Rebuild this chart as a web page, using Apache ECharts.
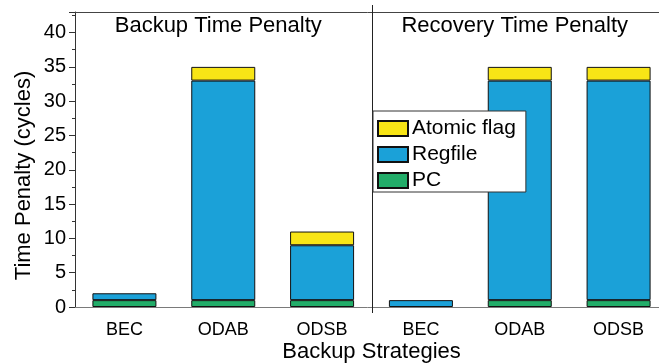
<!DOCTYPE html>
<html>
<head>
<meta charset="utf-8">
<script src="https://cdn.jsdelivr.net/npm/echarts@6/dist/echarts.min.js"></script>
<style>
  html, body { margin: 0; padding: 0; background: #fff; }
  #chart { width: 659px; height: 364px; }
</style>
</head>
<body>
<div id="chart"></div>
<script>
// Strategies, repeated for the backup and the recovery group
const strategies = ['BEC', 'ODAB', 'ODSB', 'BEC', 'ODAB', 'ODSB'];
const groupTitles = ['Backup Time Penalty', 'Recovery Time Penalty'];
const groupCenterIndex = [1, 4];

// Stacked components (cycles)
const pcCycles      = [1, 1, 1, 0, 1, 1];
const regfileCycles = [1, 32, 8, 1, 32, 32];
const atomicCycles  = [0, 2, 2, 0, 2, 2];

const yTicks = { min: 0, max: 43, interval: 5 };

const FONT = "'Liberation Sans', Arial, sans-serif";
const COLORS = { pc: '#22ad69', regfile: '#1ba1d8', atomic: '#f8e516' };

const nz = arr => arr.map(v => (v === 0 ? null : v));

const chart = echarts.init(document.getElementById('chart'), null, { renderer: 'canvas' });

function barSeries(name, data, color) {
  return {
    name: name,
    type: 'bar',
    stack: 'total',
    barWidth: 64,
    data: nz(data),
    itemStyle: { color: color, borderColor: '#111', borderWidth: 1 },
    emphasis: { disabled: true }
  };
}

chart.setOption({
  animation: false,
  backgroundColor: '#fff',
  textStyle: { fontFamily: FONT, color: '#000' },
  grid: { left: 75, top: 12, width: 593, height: 295, containLabel: false, outerBoundsMode: 'none' },
  legend: {
    orient: 'vertical',
    left: 373,
    top: 111,
    data: ['Atomic flag', 'Regfile', 'PC'],
    itemWidth: 30,
    itemHeight: 15,
    itemGap: 5,
    padding: [7, 10, 1, 4],
    backgroundColor: '#fff',
    borderColor: '#333',
    borderWidth: 1,
    icon: 'rect',
    textStyle: { fontFamily: FONT, fontSize: 21, color: '#000', padding: [0, 0, 0, -1] }
  },
  xAxis: [
    {
      type: 'category',
      data: strategies,
      position: 'bottom',
      name: 'Backup Strategies',
      nameLocation: 'middle',
      nameGap: 34,
      nameMoveOverlap: false,
      nameTextStyle: { fontFamily: FONT, fontSize: 22, color: '#000' },
      axisLine: { lineStyle: { color: '#7a7a7a', width: 1 } },
      axisTick: { alignWithLabel: true, length: 5, lineStyle: { color: '#333' } },
      axisLabel: { fontFamily: FONT, fontSize: 18, color: '#000', margin: 14 },
      splitLine: { show: false }
    },
    {
      type: 'category',
      data: strategies,
      position: 'top',
      axisLine: { lineStyle: { color: '#444', width: 1 } },
      axisTick: { alignWithLabel: true, inside: true, length: 3, lineStyle: { color: '#444' } },
      axisLabel: { show: false },
      splitLine: { show: false }
    }
  ],
  yAxis: {
    type: 'value',
    min: yTicks.min,
    max: yTicks.max,
    interval: yTicks.interval,
    name: 'Time Penalty (cycles)',
    nameLocation: 'middle',
    nameGap: 40,
    nameMoveOverlap: false,
    nameTextStyle: { fontFamily: FONT, fontSize: 22, color: '#000', padding: [0, 32, 0, 0] },
    axisLine: { show: true, lineStyle: { color: '#333', width: 1 } },
    axisTick: { show: true, length: 6, lineStyle: { color: '#333' } },
    minorTick: { show: true, splitNumber: 2, length: 3, lineStyle: { color: '#333' } },
    axisLabel: {
      fontFamily: FONT, fontSize: 20, color: '#000', margin: 9,
      formatter: v => (v % 5 === 0 && v <= 40 ? String(v) : '')
    },
    splitLine: { show: false }
  },
  series: [
    barSeries('PC', pcCycles, COLORS.pc),
    barSeries('Regfile', regfileCycles, COLORS.regfile),
    barSeries('Atomic flag', atomicCycles, COLORS.atomic)
  ]
});

// Group divider and group headings, placed through the axes
const xLeftGroupEnd = chart.convertToPixel({ xAxisIndex: 0 }, 2);
const xRightGroupStart = chart.convertToPixel({ xAxisIndex: 0 }, 3);
const dividerX = Math.round((xLeftGroupEnd + xRightGroupStart) / 2) + 0.5;
const yTop = chart.convertToPixel({ yAxisIndex: 0 }, yTicks.max);
const yBottom = chart.convertToPixel({ yAxisIndex: 0 }, yTicks.min);

const headings = groupTitles.map((t, i) => ({
  type: 'text',
  x: chart.convertToPixel({ xAxisIndex: 0 }, groupCenterIndex[i]) - 5,
  y: yTop + 14,
  style: {
    text: t,
    font: '22px ' + FONT,
    fill: '#000',
    textAlign: 'center',
    textVerticalAlign: 'middle'
  },
  silent: true
}));

chart.setOption({
  graphic: [
    {
      type: 'line',
      shape: { x1: dividerX, y1: yTop - 7, x2: dividerX, y2: yBottom + 6 },
      style: { stroke: '#222', lineWidth: 1 },
      silent: true,
      z: 1
    }
  ].concat(headings)
});
</script>
</body>
</html>
